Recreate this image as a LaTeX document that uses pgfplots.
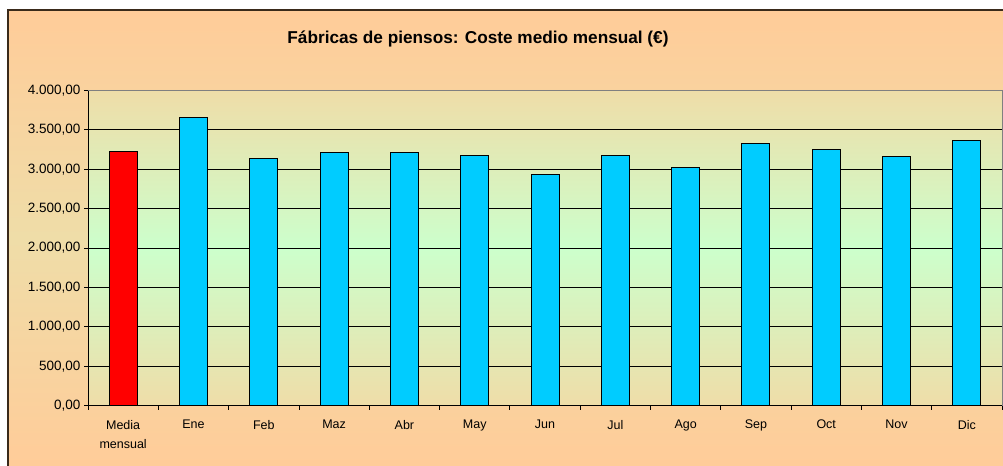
\documentclass[border=0pt]{standalone}
\usepackage{pgfplots}
\pgfplotsset{compat=1.18}
\usepackage{fontspec}
\setmainfont{Liberation Sans}
\definecolor{peach}{HTML}{FFCC99}
\definecolor{tanc}{HTML}{EFDDA8}
\definecolor{lgreen}{HTML}{CCFFCC}
\definecolor{barcyan}{HTML}{00CCFF}
\definecolor{framec}{HTML}{3A2A1A}
\begin{document}
\begin{tikzpicture}
\useasboundingbox (0bp,0bp) rectangle (1003bp,466bp);
\shade[top color=peach, bottom color=peach, middle color=tanc] (8bp,0bp) rectangle (1003bp,456bp);
\draw[line width=1.5bp, framec] (8bp,0bp) -- (8bp,456bp) -- (1003bp,456bp);
\node[anchor=base, inner sep=0pt, font=\bfseries\fontsize{17.2bp}{20bp}\selectfont] at (478bp,422.7bp) {Fábricas de piensos: Coste medio mensual (€)};
\begin{axis}[
  at={(88bp,60.3bp)}, anchor=south west,
  scale only axis, width=914bp, height=315.2bp,
  xmin=-0.5, xmax=12.5, ymin=0, ymax=4000,
  axis x line*=bottom, axis y line*=left,
  axis line style={black, line width=1bp, -},
  axis background/.style={shade, top color=tanc, bottom color=tanc, middle color=lgreen},
  ymajorgrids, grid style={black, line width=0.8bp},
  ytick={0,500,...,4000},
  scaled y ticks=false,
  yticklabel style={font=\fontsize{13.5bp}{16bp}\selectfont,
    /pgf/number format/fixed, /pgf/number format/fixed zerofill,
    /pgf/number format/precision=2, /pgf/number format/use comma,
    /pgf/number format/1000 sep={.}, /pgf/number format/assume math mode=true},
  xtick={0,...,12},
  xticklabels={{Media\\mensual},Ene,Feb,Maz,Abr,May,Jun,Jul,Ago,Sep,Oct,Nov,Dic},
  xticklabel style={align=center, font=\fontsize{12.5bp}{19bp}\selectfont, yshift=-7bp},
  minor xtick={-0.5,0.5,...,12.5},
  tick align=outside,
  major tick length=4bp, minor tick length=4bp,
  major x tick style={draw=none},
  minor x tick style={black, line width=0.8bp},
  y tick style={black, line width=0.8bp},
  after end axis/.code={\draw[gray, line width=1bp] (rel axis cs:0,1) -- (rel axis cs:1,1) -- (rel axis cs:1,0);},
]
\addplot[ybar, bar width=28bp, bar shift=0pt, fill=red, draw=black, line width=1bp] coordinates {(0,3225)};
\addplot[ybar, bar width=28bp, bar shift=0pt, fill=barcyan, draw=black, line width=1bp] coordinates {
(1,3657) (2,3141) (3,3213) (4,3209) (5,3175) (6,2933) (7,3175) (8,3018) (9,3327) (10,3256) (11,3158) (12,3370)};
\end{axis}
\end{tikzpicture}
\end{document}
